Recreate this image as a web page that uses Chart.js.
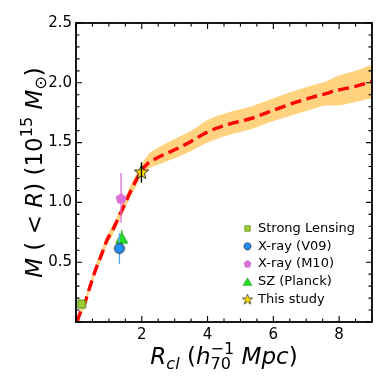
<!DOCTYPE html>
<html>
<head>
<meta charset="utf-8">
<script src="https://cdn.jsdelivr.net/npm/chart.js@4.4.0/dist/chart.umd.min.js"></script>
<style>
html,body{margin:0;padding:0;background:#fff}
#wrap{width:384px;height:384px}
</style>
</head>
<body>
<div id="wrap"><canvas id="c" width="384" height="384"></canvas></div>
<script>
// ── data ──
const radius   = [0.03, 0.12, 0.27, 0.43, 0.6, 0.8, 0.95, 1.1, 1.24, 1.44, 1.64, 1.8, 2.0, 2.2, 2.45, 3.0, 3.5, 4.0, 4.6, 5.3, 6.0, 6.6, 7.2, 7.6, 7.9, 8.5, 9.0];
const massFit  = [0.0, 0.07, 0.16, 0.30, 0.44, 0.58, 0.69, 0.76, 0.84, 0.96, 1.08, 1.17, 1.27, 1.33, 1.37, 1.44, 1.51, 1.59, 1.65, 1.70, 1.77, 1.83, 1.88, 1.91, 1.935, 1.97, 2.01];
const bandHigh = [0.02, 0.09, 0.19, 0.33, 0.48, 0.62, 0.73, 0.80, 0.88, 1.00, 1.13, 1.22, 1.32, 1.40, 1.45, 1.53, 1.60, 1.69, 1.75, 1.80, 1.87, 1.93, 1.98, 2.01, 2.05, 2.10, 2.15];
const bandLow  = [0.0, 0.05, 0.13, 0.27, 0.41, 0.54, 0.65, 0.72, 0.80, 0.92, 1.04, 1.12, 1.22, 1.28, 1.31, 1.37, 1.43, 1.50, 1.56, 1.61, 1.68, 1.73, 1.78, 1.81, 1.81, 1.84, 1.87];

const obsLabels = ['Strong Lensing', 'X-ray (V09)', 'X-ray (M10)', 'SZ (Planck)', 'This study'];
const obsR      = [0.17, 1.32, 1.37, 1.39, 1.99];
const obsM      = [0.15, 0.615, 1.03, 0.70, 1.25];
const obsErrLo  = [0, 0.13, 0.20, 0.07, 0.085];
const obsErrHi  = [0, 0.13, 0.215, 0.07, 0.085];

const xTickLabels = [2, 4, 6, 8];
const yTickLabels = [0.5, 1.0, 1.5, 2.0, 2.5];

// ── marker looks ──
const markers = [
    { kind:'square',   r:4,   fill:'#9acd32', edge:'#4f7a12', err:'#9acd32' },
    { kind:'circle',   r:5,   fill:'#1e90ff', edge:'#1a1a1a', err:'#5aaaff' },
    { kind:'pentagon', r:5.8, fill:'#da70d6', edge:null,      err:'#da70d6' },
    { kind:'triangle', r:7,   fill:'#22dd22', edge:'#119911', err:'#22cc22' },
    { kind:'star',     r:7.5, fill:'#ffd700', edge:'#222222', err:'#000000' },
];

function markerPath(ctx, kind, cx, cy, r) {
    ctx.beginPath();
    if (kind==='square') { ctx.rect(cx-r, cy-r, 2*r, 2*r); }
    else if (kind==='circle') { ctx.arc(cx, cy, r, 0, Math.PI*2); }
    else {
        const n = kind==='pentagon' ? 5 : kind==='triangle' ? 3 : 10;
        for (let i=0;i<n;i++) {
            const a = -Math.PI/2 + i*2*Math.PI/n;
            const rr = (kind==='star' && i%2) ? r*0.42 : r;
            const px = cx + rr*Math.cos(a), py = cy + rr*Math.sin(a) + (kind==='triangle' ? r*0.2 : 0);
            i ? ctx.lineTo(px,py) : ctx.moveTo(px,py);
        }
        ctx.closePath();
    }
}

function markerCanvas(m) {
    const s = Math.ceil(2*m.r+4);
    const cv = document.createElement('canvas'); cv.width = s; cv.height = s;
    const ctx = cv.getContext('2d');
    markerPath(ctx, m.kind, s/2, s/2, m.r);
    ctx.fillStyle = m.fill; ctx.fill();
    if (m.edge) { ctx.strokeStyle = m.edge; ctx.lineWidth = 0.9; ctx.stroke(); }
    return cv;
}
const markerImgs = markers.map(markerCanvas);

// ── rich text for axis titles ──
function richWidth(ctx, parts, size) {
    let w = 0;
    parts.forEach(p => {
        const s = size*(p.sc||1);
        ctx.font = (p.it?'oblique ':'') + s + 'px "DejaVu Sans"';
        w += p.stack ? Math.max(...p.stack.map(t=>ctx.measureText(t).width)) : ctx.measureText(p.t).width;
    });
    return w;
}
function drawRich(ctx, parts, size, x, y) {
    let cx = x;
    parts.forEach(p => {
        const s = size*(p.sc||1);
        ctx.font = (p.it?'oblique ':'') + s + 'px "DejaVu Sans"';
        if (p.stack) {
            ctx.fillText(p.stack[0], cx, y - size*0.42);
            ctx.fillText(p.stack[1], cx, y + size*0.22);
            cx += Math.max(...p.stack.map(t=>ctx.measureText(t).width));
        } else {
            ctx.fillText(p.t, cx, y + (p.dy||0)*size);
            cx += ctx.measureText(p.t).width;
        }
    });
}
const yTitle = [
    {t:'M', it:true}, {t:' ( '}, {t:'<'}, {t:' '}, {t:'R', it:true}, {t:') (10'},
    {t:'15', sc:0.7, dy:-0.42}, {t:' '}, {t:'M', it:true}, {t:'\u2299', sc:0.7, dy:0.2}, {t:')'}
];
const xTitle = [
    {t:'R', it:true}, {t:'cl', it:true, sc:0.7, dy:0.2}, {t:' ('}, {t:'h', it:true},
    {stack:['\u22121','70'], sc:0.7}, {t:' '}, {t:'Mpc', it:true}, {t:')'}
];

const decor = {
    id: 'decor',
    beforeDatasetDraw(chart, args) { if (args.index < 4) drawErr(chart, args.index); },
    afterDatasetDraw(chart, args) { if (args.index === 4) drawErr(chart, 4); },
    afterDraw(chart) {
        const ctx = chart.ctx, a = chart.chartArea, xs = chart.scales.x, ys = chart.scales.y;
        ctx.save();
        ctx.strokeStyle = '#000'; ctx.lineWidth = 1.1;
        ctx.beginPath();
        for (let i=0;i<=18;i++) {
            const px = xs.getPixelForValue(i*0.5), L = i%4===0 ? 6 : 3.5;
            ctx.moveTo(px, a.bottom); ctx.lineTo(px, a.bottom-L);
            ctx.moveTo(px, a.top); ctx.lineTo(px, a.top+L);
        }
        for (let i=0;i<=25;i++) {
            const py = ys.getPixelForValue(i/10), L = i%5===0 ? 6 : 3.5;
            ctx.moveTo(a.left, py); ctx.lineTo(a.left+L, py);
            ctx.moveTo(a.right, py); ctx.lineTo(a.right-L, py);
        }
        ctx.stroke();
        ctx.lineWidth = 1.8;
        ctx.strokeRect(a.left, a.top, a.right-a.left, a.bottom-a.top);

        // legend
        ctx.fillStyle = '#000'; ctx.textBaseline = 'middle'; ctx.textAlign = 'left';
        ctx.font = '13px "DejaVu Sans"';
        obsLabels.forEach((lab, i) => {
            const y = 228.5 + i*17.8, img = markerImgs[i], k = 0.72;
            ctx.drawImage(img, 247.5 - img.width*k/2, y - img.height*k/2, img.width*k, img.height*k);
            ctx.fillText(lab, 258, y);
        });

        // axis titles
        ctx.textBaseline = 'alphabetic';
        const ts = 23;
        const wx = richWidth(ctx, xTitle, ts);
        drawRich(ctx, xTitle, ts, (a.left+a.right)/2 - wx/2, 364);
        ctx.translate(41.5, (a.top+a.bottom)/2);
        ctx.rotate(-Math.PI/2);
        const wy = richWidth(ctx, yTitle, ts);
        drawRich(ctx, yTitle, ts, -wy/2, 0);
        ctx.restore();
    }
};

function drawErr(chart, i) {
    if (!obsErrLo[i] && !obsErrHi[i]) return;
    const ctx = chart.ctx, xs = chart.scales.x, ys = chart.scales.y;
    const px = xs.getPixelForValue(obsR[i]);
    ctx.save();
    ctx.strokeStyle = markers[i].err; ctx.lineWidth = 1.3;
    ctx.beginPath();
    ctx.moveTo(px, ys.getPixelForValue(obsM[i]-obsErrLo[i]));
    ctx.lineTo(px, ys.getPixelForValue(obsM[i]+obsErrHi[i]));
    ctx.stroke();
    ctx.restore();
}

const obsSets = obsLabels.map((lab, i) => ({
    type: 'scatter', label: lab,
    data: [{ x: obsR[i], y: obsM[i] }],
    pointStyle: markerImgs[i], pointRadius: markers[i].r
}));

const datasets = [
    ...obsSets,
    { type:'line', label:'fit', data: radius.map((r,i)=>({x:r, y:massFit[i]})),
      borderColor:'#ff0000', borderWidth:3.4, borderDash:[11,5.5], pointRadius:0,
      cubicInterpolationMode:'monotone', fill:false },
    { type:'line', label:'hi', data: radius.map((r,i)=>({x:r, y:bandHigh[i]})),
      borderWidth:0, pointRadius:0, cubicInterpolationMode:'monotone',
      backgroundColor:'rgba(255,165,0,0.5)', fill:'+1' },
    { type:'line', label:'lo', data: radius.map((r,i)=>({x:r, y:bandLow[i]})),
      borderWidth:0, pointRadius:0, cubicInterpolationMode:'monotone', fill:false }
];

new Chart(document.getElementById('c').getContext('2d'), {
    type: 'scatter',
    data: { datasets },
    options: {
        responsive:false, animation:false, events:[],
        layout: { padding: { left:0, top:23, right:12, bottom:0 } },
        plugins: { legend:{display:false}, tooltip:{enabled:false} },
        scales: {
            x: {
                type:'linear', min:0, max:9,
                grid:{display:false, drawTicks:false}, border:{display:false},
                afterBuildTicks: (s) => { s.ticks = xTickLabels.map(v=>({value:v})); },
                afterFit: (s) => { s.height = 62; },
                ticks:{ padding:4, color:'#000', font:{family:'DejaVu Sans', size:15}, maxRotation:0,
                        callback:(v)=>String(v) }
            },
            y: {
                type:'linear', min:0, max:2.5,
                grid:{display:false, drawTicks:false}, border:{display:false},
                afterBuildTicks: (s) => { s.ticks = yTickLabels.map(v=>({value:v})); },
                afterFit: (s) => { s.width = 76; },
                ticks:{ padding:4, color:'#000', font:{family:'DejaVu Sans', size:15},
                        callback:(v)=>v.toFixed(1) }
            }
        }
    },
    plugins: [decor]
});
</script>
</body>
</html>
